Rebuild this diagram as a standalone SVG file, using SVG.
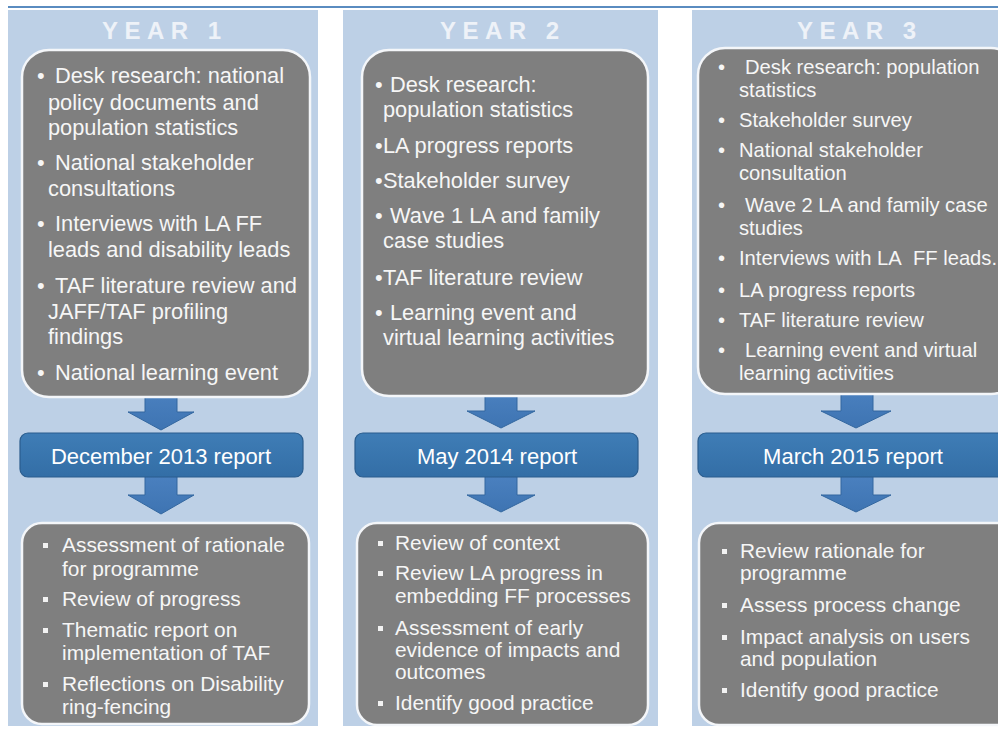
<svg xmlns="http://www.w3.org/2000/svg" width="998" height="729" viewBox="0 0 998 729">
<defs>
<linearGradient id="barG" x1="0" y1="0" x2="0" y2="1">
<stop offset="0" stop-color="#3f7db6"/>
<stop offset="1" stop-color="#336ea6"/>
</linearGradient>
<linearGradient id="arrG" x1="0" y1="0" x2="0" y2="1">
<stop offset="0" stop-color="#4a80bf"/>
<stop offset="1" stop-color="#3e74b2"/>
</linearGradient>
</defs>
<style>
.panel{fill:#bdd0e6}
.box{fill:#7f7f7f;stroke:#f4f6f9;stroke-width:2.5}
.bar{fill:url(#barG);stroke:#2b5d8e;stroke-width:1.2}
.arrow{fill:url(#arrG);stroke:#33679f;stroke-width:1}
.hdr{font-family:"Liberation Sans",Arial,sans-serif;font-weight:bold;font-size:24px;letter-spacing:6.5px;fill:#eef2f8}
.t{font-family:"Liberation Sans",Arial,sans-serif;font-size:21.8px;fill:#f6f6f6}
.t3{font-family:"Liberation Sans",Arial,sans-serif;font-size:20.2px;fill:#f6f6f6}
.tb{font-family:"Liberation Sans",Arial,sans-serif;font-size:20.9px;fill:#f6f6f6}
.rep{font-family:"Liberation Sans",Arial,sans-serif;font-size:22px;fill:#ffffff;text-anchor:middle}
.sq{fill:#f2f2f2}
</style>
<rect width="998" height="729" fill="#ffffff"/>
<line x1="8" y1="7" x2="998" y2="7" stroke="#5a8cc0" stroke-width="2"/>

<g id="panels">
<rect class="panel" x="8" y="10" width="310" height="716"/>
<rect class="panel" x="343" y="10" width="315" height="716"/>
<rect class="panel" x="692" y="10" width="310" height="716"/>
<text class="hdr" x="102" y="39">YEAR 1</text>
<text class="hdr" x="440" y="39">YEAR 2</text>
<text class="hdr" x="797" y="39">YEAR 3</text>
</g>

<g id="connectors">
<path class="arrow" d="M145,392 L177,392 L177,412 L194,412 L161,430 L128,412 L145,412 Z"/>
<path class="arrow" d="M145,476 L177,476 L177,495 L194,495 L161,514 L128,495 L145,495 Z"/>
<path class="arrow" d="M485,392 L517,392 L517,411 L535,411 L501,428 L467,411 L485,411 Z"/>
<path class="arrow" d="M485,476 L517,476 L517,495 L535,495 L501,512 L467,495 L485,495 Z"/>
<path class="arrow" d="M841,390 L873,390 L873,411 L891,411 L856,428 L821,411 L841,411 Z"/>
<path class="arrow" d="M841,476 L873,476 L873,495 L891,495 L856,512 L821,495 L841,495 Z"/>
</g>

<g id="y1-activities">
<rect class="box" x="22" y="50" width="288" height="347" rx="27"/>
<text class="t" x="37" y="83">•</text><text class="t" x="55" y="83">Desk research: national</text>
<text class="t" x="48" y="110">policy documents and</text>
<text class="t" x="48" y="135">population statistics</text>
<text class="t" x="37" y="170">•</text><text class="t" x="55" y="170">National stakeholder</text>
<text class="t" x="48" y="196">consultations</text>
<text class="t" x="37" y="231">•</text><text class="t" x="55" y="231">Interviews with LA FF</text>
<text class="t" x="48" y="257">leads and disability leads</text>
<text class="t" x="37" y="293">•</text><text class="t" x="55" y="293">TAF literature review and</text>
<text class="t" x="48" y="319">JAFF/TAF profiling</text>
<text class="t" x="48" y="344">findings</text>
<text class="t" x="37" y="380">•</text><text class="t" x="55" y="380">National learning event</text>
</g>

<g id="y2-activities">
<rect class="box" x="362" y="50" width="286" height="346" rx="27"/>
<text class="t" x="375" y="92">•</text><text class="t" x="390" y="92">Desk research:</text>
<text class="t" x="383" y="117">population statistics</text>
<text class="t" x="375" y="153">•</text><text class="t" x="383" y="153">LA progress reports</text>
<text class="t" x="375" y="188">•</text><text class="t" x="383" y="188">Stakeholder survey</text>
<text class="t" x="375" y="223">•</text><text class="t" x="390" y="223">Wave 1 LA and family</text>
<text class="t" x="383" y="248">case studies</text>
<text class="t" x="375" y="285">•</text><text class="t" x="383" y="285">TAF literature review</text>
<text class="t" x="375" y="320">•</text><text class="t" x="390" y="320">Learning event and</text>
<text class="t" x="383" y="345">virtual learning activities</text>
</g>

<g id="y3-activities">
<rect class="box" x="698" y="48" width="320" height="346" rx="27"/>
<text class="t3" x="718" y="74">•</text><text class="t3" x="745" y="74">Desk research: population</text>
<text class="t3" x="739" y="97">statistics</text>
<text class="t3" x="718" y="127">•</text><text class="t3" x="739" y="127">Stakeholder survey</text>
<text class="t3" x="718" y="157">•</text><text class="t3" x="739" y="157">National stakeholder</text>
<text class="t3" x="739" y="180">consultation</text>
<text class="t3" x="718" y="212">•</text><text class="t3" x="745" y="212">Wave 2 LA and family case</text>
<text class="t3" x="739" y="235">studies</text>
<text class="t3" x="718" y="265">•</text><text class="t3" x="739" y="265">Interviews with LA&#160; FF leads.</text>
<text class="t3" x="718" y="297">•</text><text class="t3" x="739" y="297">LA progress reports</text>
<text class="t3" x="718" y="327">•</text><text class="t3" x="739" y="327">TAF literature review</text>
<text class="t3" x="718" y="357">•</text><text class="t3" x="745" y="357">Learning event and virtual</text>
<text class="t3" x="739" y="380">learning activities</text>
</g>

<g id="y1-report">
<rect class="bar" x="20" y="433" width="283" height="44" rx="8"/>
<text class="rep" x="161" y="464">December 2013 report</text>
</g>
<g id="y2-report">
<rect class="bar" x="355" y="433" width="283" height="44" rx="8"/>
<text class="rep" x="497" y="464">May 2014 report</text>
</g>
<g id="y3-report">
<rect class="bar" x="698" y="433" width="312" height="44" rx="8"/>
<text class="rep" x="853" y="464">March 2015 report</text>
</g>

<g id="y1-outputs">
<rect class="box" x="22" y="523" width="287" height="201" rx="20"/>
<rect class="sq" x="43" y="543" width="5" height="5"/><text class="tb" x="62" y="552">Assessment of rationale</text>
<text class="tb" x="62" y="576">for programme</text>
<rect class="sq" x="43" y="597" width="5" height="5"/><text class="tb" x="62" y="606">Review of progress</text>
<rect class="sq" x="43" y="628" width="5" height="5"/><text class="tb" x="62" y="637">Thematic report on</text>
<text class="tb" x="62" y="660">implementation of TAF</text>
<rect class="sq" x="43" y="682" width="5" height="5"/><text class="tb" x="62" y="691">Reflections on Disability</text>
<text class="tb" x="62" y="714">ring-fencing</text>
</g>

<g id="y2-outputs">
<rect class="box" x="357" y="523" width="291" height="202" rx="20"/>
<rect class="sq" x="378" y="541" width="5" height="5"/><text class="tb" x="395" y="550">Review of context</text>
<rect class="sq" x="378" y="571" width="5" height="5"/><text class="tb" x="395" y="580">Review LA progress in</text>
<text class="tb" x="395" y="603">embedding FF processes</text>
<rect class="sq" x="378" y="626" width="5" height="5"/><text class="tb" x="395" y="635">Assessment of early</text>
<text class="tb" x="395" y="657">evidence of impacts and</text>
<text class="tb" x="395" y="679">outcomes</text>
<rect class="sq" x="378" y="701" width="5" height="5"/><text class="tb" x="395" y="710">Identify good practice</text>
</g>

<g id="y3-outputs">
<rect class="box" x="699" y="523" width="320" height="202" rx="20"/>
<rect class="sq" x="722" y="549" width="5" height="5"/><text class="tb" x="740" y="558">Review rationale for</text>
<text class="tb" x="740" y="580">programme</text>
<rect class="sq" x="722" y="603" width="5" height="5"/><text class="tb" x="740" y="612">Assess process change</text>
<rect class="sq" x="722" y="635" width="5" height="5"/><text class="tb" x="740" y="644">Impact analysis on users</text>
<text class="tb" x="740" y="666">and population</text>
<rect class="sq" x="722" y="688" width="5" height="5"/><text class="tb" x="740" y="697">Identify good practice</text>
</g>
</svg>
